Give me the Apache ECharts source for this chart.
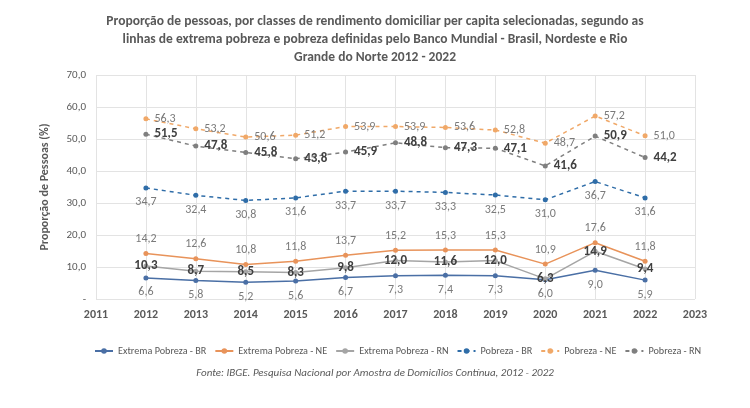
<!DOCTYPE html>
<html><head><meta charset="utf-8">
<script src="https://cdn.jsdelivr.net/npm/echarts@6/dist/echarts.min.js"></script>
<style>html,body{margin:0;padding:0;background:#fff}#c{width:750px;height:408px}</style>
</head><body><div id="c"></div>
<script>
var years = [2012,2013,2014,2015,2016,2017,2018,2019,2020,2021,2022];
var extremaBR = [6.6,5.8,5.2,5.6,6.7,7.3,7.4,7.3,6.0,9.0,5.9];
var extremaNE = [14.2,12.6,10.8,11.8,13.7,15.2,15.3,15.3,10.9,17.6,11.8];
var extremaRN = [10.3,8.7,8.5,8.3,9.8,12.0,11.6,12.0,6.3,14.9,9.4];
var pobrezaBR = [34.7,32.4,30.8,31.6,33.7,33.7,33.3,32.5,31.0,36.7,31.6];
var pobrezaNE = [56.3,53.2,50.6,51.2,53.9,53.9,53.6,52.8,48.7,57.2,51.0];
var pobrezaRN = [51.5,47.8,45.8,43.8,45.9,48.8,47.3,47.1,41.6,50.9,44.2];
var seriesNames = ['Extrema Pobreza - BR','Extrema Pobreza - NE','Extrema Pobreza - RN','Pobreza - BR','Pobreza - NE','Pobreza - RN'];
var titleText = 'Proporção de pessoas, por classes de rendimento domiciliar per capita selecionadas, segundo as\nlinhas de extrema pobreza e pobreza definidas pelo Banco Mundial - Brasil, Nordeste e Rio\nGrande do Norte 2012 - 2022';
var sourceText = 'Fonte: IBGE. Pesquisa Nacional por Amostra de Domicílios Contínua, 2012 - 2022';

var FONT = "Carlito, 'Roboto Condensed', sans-serif";
function pairs(v){ return years.map(function(y,i){ return [y, v[i]]; }); }
function fmt(p){ return p.value[1].toFixed(1).replace('.', ','); }

function mk(name, data, color, dashed, labelPos, bold, labelDist){
  return {
    name: name, type: 'line', data: pairs(data),
    symbol: 'circle', symbolSize: 5,
    lineStyle: {color: color, width: 1.5, type: dashed ? [4,4] : 'solid'},
    itemStyle: {color: color},
    label: {show: true, position: labelPos, distance: labelDist, formatter: fmt,
      fontFamily: FONT, fontSize: bold ? 13 : 12, fontWeight: bold ? 'bold' : 'normal',
      color: bold ? '#404040' : '#7a7a7a'},
    emphasis: {disabled: true},
    animation: false
  };
}

var chart = echarts.init(document.getElementById('c'));
chart.setOption({
  backgroundColor: '#fff',
  animation: false,
  title: {text: titleText, left: 'center', top: 8,
    textStyle: {fontFamily: FONT, fontSize: 13.5, fontWeight: 'bold', color: '#595959', lineHeight: 18}},
  legend: {top: 341, left: 89, itemWidth: 18, itemHeight: 7, itemGap: 8,
    textStyle: {fontFamily: FONT, fontSize: 10.2, color: '#595959'},
    data: seriesNames},
  grid: {left: 96, right: 55, top: 75, bottom: 109},
  xAxis: {type: 'value', min: 2011, max: 2023, interval: 1,
    axisLine: {show: false}, axisTick: {show: false},
    splitLine: {show: true, lineStyle: {color: '#e3e3e3'}},
    axisLabel: {formatter: function(v){return String(v);}, fontFamily: FONT, fontSize: 12, fontWeight: 'bold', color: '#595959', margin: 10}},
  yAxis: {type: 'value', min: 0, max: 70, interval: 10,
    name: 'Proporção de Pessoas (%)', nameLocation: 'middle', nameGap: 45,
    nameTextStyle: {fontFamily: FONT, fontSize: 12, fontWeight: 'bold', color: '#595959'},
    axisLine: {show: false}, axisTick: {show: false},
    splitLine: {show: true, lineStyle: {color: '#e3e3e3'}},
    axisLabel: {formatter: function(v){ return v === 0 ? '-' : v.toFixed(1).replace('.', ','); },
      fontFamily: FONT, fontSize: 11, color: '#595959', margin: 10}},
  graphic: [{type: 'text', left: 'center', top: 368,
    style: {text: sourceText, fontFamily: FONT, fontSize: 11, fontStyle: 'italic', fill: '#595959'}}],
  series: [
    mk(seriesNames[0], extremaBR, '#4A6FA5', false, 'bottom', false, 6),
    mk(seriesNames[1], extremaNE, '#E8935A', false, 'top', false, 6),
    mk(seriesNames[2], extremaRN, '#A5A5A5', false, 'inside', true, 0),
    mk(seriesNames[3], pobrezaBR, '#2F6DA8', true, 'bottom', false, 6),
    mk(seriesNames[4], pobrezaNE, '#F0A868', true, 'right', false, 6),
    mk(seriesNames[5], pobrezaRN, '#7F7F7F', true, 'right', true, 6)
  ]
});
</script></body></html>
